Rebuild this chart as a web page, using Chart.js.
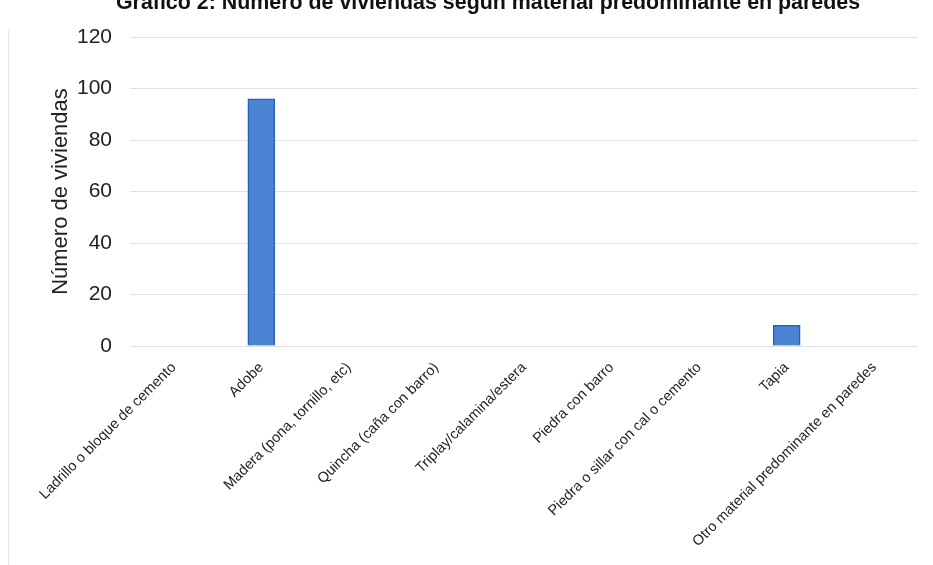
<!DOCTYPE html>
<html>
<head>
<meta charset="utf-8">
<script src="https://cdn.jsdelivr.net/npm/chart.js@4/dist/chart.umd.min.js"></script>
<style>
  body { margin: 0; background: #fff; }
  #wrap { position: relative; width: 933px; height: 565px; overflow: hidden; }
  #frame { position: absolute; left: 8px; top: 30px; width: 0; height: 535px; border-left: 1px solid #e6e6e6; }
  #mycanvas { position: absolute; left: 0; top: 0; }
</style>
</head>
<body>
<div id="wrap">
  <div id="frame"></div>
  <canvas id="mycanvas" width="933" height="565"></canvas>
</div>
<script>
var chartTitle = 'Gráfico 2: Número de viviendas según material predominante en paredes';
var materials = [
	'Ladrillo o bloque de cemento',
	'Adobe',
	'Madera (pona, tornillo, etc)',
	'Quincha (caña con barro)',
	'Triplay/calamina/estera',
	'Piedra con barro',
	'Piedra o sillar con cal o cemento',
	'Tapia',
	'Otro material predominante en paredes'
];
var viviendas = [0, 96, 0, 0, 0, 0, 0, 8, 0];
var yTicks = [0, 20, 40, 60, 80, 100, 120];

// title sits a bit off-centre and is clipped at the top in the scan
var topTitle = {
	id: 'topTitle',
	afterDraw: function(chart) {
		var c = chart.ctx;
		c.save();
		c.font = 'bold 21.4px "Liberation Sans", Arial, sans-serif';
		c.fillStyle = '#111';
		c.textAlign = 'center';
		c.textBaseline = 'alphabetic';
		c.fillText(chartTitle, 488, 9);
		c.restore();
	}
};

var ctx = document.getElementById('mycanvas');
var barGraph = new Chart(ctx, {
	type: 'bar',
	data: {
		labels: materials,
		datasets: [{
			label: 'Número de viviendas',
			data: viviendas,
			backgroundColor: '#4a84d2',
			borderColor: '#2a62b4',
			borderWidth: 1.5,
			barThickness: 27
		}]
	},
	plugins: [topTitle],
	options: {
		responsive: false,
		animation: false,
		layout: { padding: { left: 48, right: 15, top: 37, bottom: 0 } },
		plugins: {
			legend: { display: false },
			tooltip: { enabled: false },
			title: { display: false }
		},
		scales: {
			x: {
				grid: { display: false },
				border: { display: false },
				ticks: {
					autoSkip: false,
					minRotation: 45,
					maxRotation: 45,
					color: '#222',
					padding: 5,
					font: { family: 'Liberation Sans', size: 14.5 }
				},
				afterFit: function(s) { s.height = 219; }
			},
			y: {
				min: yTicks[0],
				max: yTicks[yTicks.length - 1],
				afterBuildTicks: function(s) {
					s.ticks = yTicks.map(function(v) { return { value: v }; });
				},
				grid: { color: '#e0e0e0', lineWidth: 1, drawTicks: false },
				border: { display: false },
				ticks: {
					color: '#222',
					padding: 18,
					font: { family: 'Liberation Sans', size: 21 }
				},
				title: {
					display: true,
					text: 'Número de viviendas',
					color: '#222',
					font: { family: 'Liberation Sans', size: 22 },
					padding: { top: 0, bottom: 4 }
				},
				afterFit: function(s) { s.width = 82; }
			}
		}
	}
});
</script>
</body>
</html>
